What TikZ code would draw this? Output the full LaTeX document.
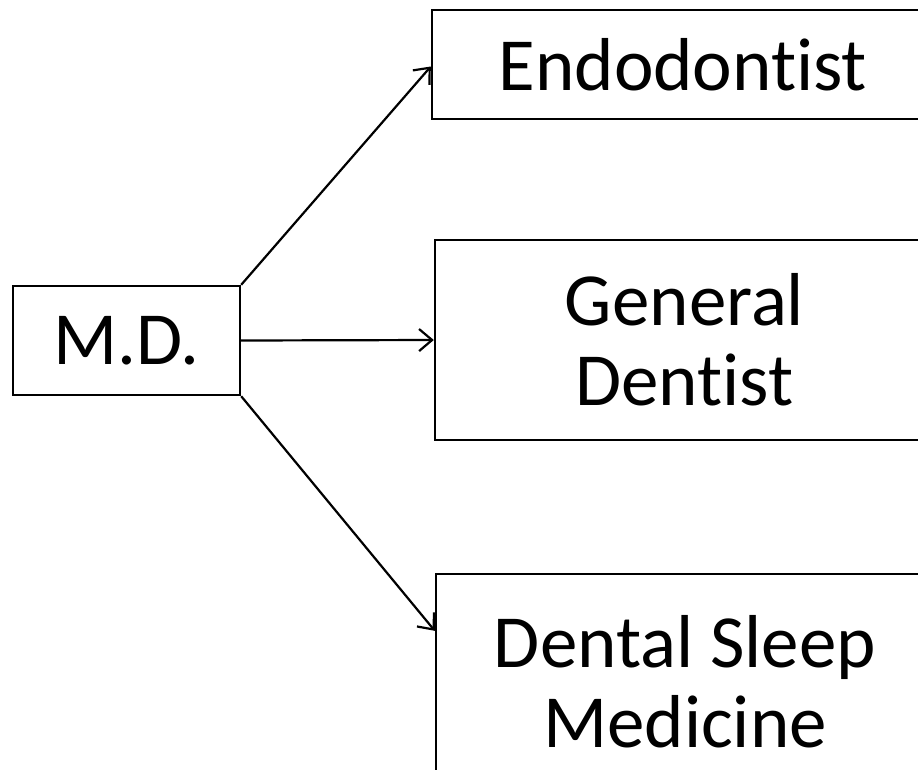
\documentclass[tikz,border=0pt]{standalone}
\usepackage{fontspec}
\setmainfont[Ligatures={NoCommon,NoContextual}]{Carlito}
\usetikzlibrary{arrows.meta}
\begin{document}
\begin{tikzpicture}[x=1pt,y=-1pt,
  box/.style={draw=black, line width=2.4pt, inner sep=0pt, align=center,
    font=\fontsize{75}{80}\selectfont},
  conn/.style={line width=2.2pt, -{Straight Barb[length=13pt,width=22pt,line width=2.2pt]}}]
\fill[white] (0,0) rectangle (918,769);
\useasboundingbox (0,0) rectangle (918,769);
\clip (0,0) rectangle (918,769);
\node[box, minimum width=227pt, minimum height=109pt] (md) at (126.5,340.5) {M.D.};
\node[box, minimum width=502pt, minimum height=109pt] (endo) at (683,64.5) {Endodont\kern0pt ist};
\node[box, minimum width=499pt, minimum height=200pt] (gen) at (684.5,340) {General\\Dent\kern0pt ist};
\node[box, minimum width=498pt, minimum height=216pt] (dsm) at (685,682) {Dental Sleep\\Medicine};
\draw[conn] (md.north east) -- ([yshift=-2pt]endo.west);
\draw[conn] (md.east) -- (gen.west);
\draw[conn] (md.south east) -- ([yshift=-58pt]dsm.north west);
\end{tikzpicture}
\end{document}
